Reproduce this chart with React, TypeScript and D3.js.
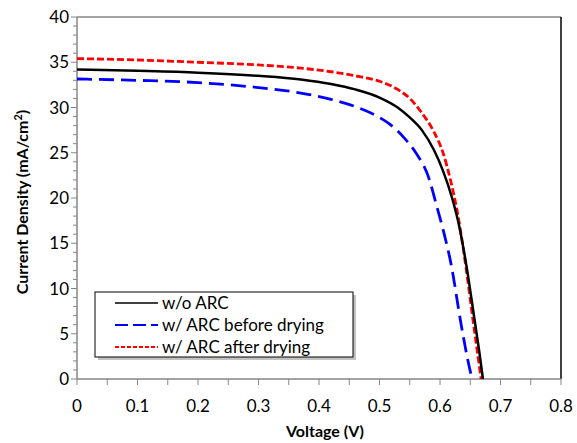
import React, { useEffect, useRef } from 'react';
import * as d3 from 'd3';

// voltage (V) and current density (mA/cm2)
const woArcV = [0, 0.1, 0.2, 0.3, 0.37, 0.42, 0.46, 0.5, 0.53, 0.55, 0.57, 0.59, 0.605, 0.62, 0.632, 0.643, 0.657, 0.665, 0.671];
const woArcJ = [34.2, 34.05, 33.85, 33.5, 33.1, 32.6, 32.0, 31.1, 30.0, 28.9, 27.5, 25.3, 23.0, 20.0, 16.8, 12.8, 6.6, 3.0, 0];

const beforeV = [0, 0.1, 0.2, 0.3, 0.37, 0.42, 0.46, 0.5, 0.52, 0.54, 0.56, 0.58, 0.595, 0.607, 0.618, 0.635, 0.645, 0.653];
const beforeJ = [33.15, 33.0, 32.75, 32.2, 31.6, 30.9, 30.1, 28.9, 28.0, 26.7, 25.0, 22.5, 19.0, 16.0, 12.8, 6.0, 2.4, 0];

const afterV = [0, 0.1, 0.2, 0.3, 0.37, 0.42, 0.46, 0.5, 0.53, 0.55, 0.57, 0.59, 0.605, 0.618, 0.628, 0.643, 0.655, 0.663, 0.668];
const afterJ = [35.4, 35.25, 35.0, 34.7, 34.35, 33.95, 33.5, 32.9, 32.0, 31.0, 29.4, 27.3, 25.0, 21.8, 18.7, 12.3, 6.3, 2.4, 0];

const xTicks = [0, 0.1, 0.2, 0.3, 0.4, 0.5, 0.6, 0.7, 0.8];
const yTicks = [0, 5, 10, 15, 20, 25, 30, 35, 40];

const seriesNames = ['w/o ARC', 'w/ ARC before drying', 'w/ ARC after drying'];

const App = () => {
  const svgRef = useRef(null);

  useEffect(() => {
    drawChart();
  }, []);

  const drawChart = () => {
    const svg = d3.select(svgRef.current);
    svg.selectAll('*').remove();

    const left = 77, right = 561, top = 17, bottom = 379;
    const axisColor = '#868686';
    const font = 'Lato, "Open Sans", sans-serif';

    const x = d3.scaleLinear().domain([0, 0.8]).range([left, right]);
    const y = d3.scaleLinear().domain([0, 40]).range([bottom, top]);

    // plot border (top gray, right black)
    svg.append('line')
      .attr('x1', left).attr('x2', right).attr('y1', top).attr('y2', top)
      .attr('stroke', axisColor).attr('stroke-width', 1.5);
    svg.append('line')
      .attr('x1', right).attr('x2', right).attr('y1', top).attr('y2', bottom)
      .attr('stroke', '#000').attr('stroke-width', 1.5);

    // minor ticks
    const yMinor = d3.range(0, 41, 1);
    svg.append('g')
      .selectAll('line')
      .data(yMinor)
      .join('line')
      .attr('x1', d => (d % 5 === 0 ? left - 6 : left - 4))
      .attr('x2', left)
      .attr('y1', d => y(d)).attr('y2', d => y(d))
      .attr('stroke', axisColor).attr('stroke-width', 1);

    const xMinor = d3.range(0, 17).map(i => i * 0.05);
    svg.append('g')
      .selectAll('line')
      .data(xMinor)
      .join('line')
      .attr('x1', d => x(d)).attr('x2', d => x(d))
      .attr('y1', bottom).attr('y2', bottom + 6)
      .attr('stroke', axisColor).attr('stroke-width', 1);

    // axis lines
    svg.append('line')
      .attr('x1', left).attr('x2', left).attr('y1', top).attr('y2', bottom)
      .attr('stroke', axisColor).attr('stroke-width', 1.5);
    svg.append('line')
      .attr('x1', left).attr('x2', right).attr('y1', bottom).attr('y2', bottom)
      .attr('stroke', axisColor).attr('stroke-width', 1.5);

    // tick labels
    svg.append('g')
      .selectAll('text')
      .data(yTicks)
      .join('text')
      .attr('x', 69)
      .attr('y', d => y(d) + 6)
      .attr('text-anchor', 'end')
      .attr('font-family', font)
      .attr('font-size', 17)
      .attr('fill', '#000')
      .text(d => d);

    svg.append('g')
      .selectAll('text')
      .data(xTicks)
      .join('text')
      .attr('x', d => x(d))
      .attr('y', 412)
      .attr('text-anchor', 'middle')
      .attr('font-family', font)
      .attr('font-size', 17)
      .attr('fill', '#000')
      .text(d => (d === 0 ? '0' : d.toFixed(1)));

    // axis titles
    svg.append('text')
      .attr('x', 325).attr('y', 437)
      .attr('text-anchor', 'middle')
      .attr('font-family', font)
      .attr('font-weight', 'bold')
      .attr('font-size', 16)
      .text('Voltage (V)');

    const yt = svg.append('text')
      .attr('transform', `translate(28,${(top + bottom) / 2 + 4}) rotate(-90)`)
      .attr('text-anchor', 'middle')
      .attr('font-family', font)
      .attr('font-weight', 'bold')
      .attr('font-size', 16);
    yt.append('tspan').text('Current Density (mA/cm');
    yt.append('tspan').attr('baseline-shift', 'super').attr('font-size', 11).text('2');
    yt.append('tspan').text(')');

    // curves
    const line = d3.line()
      .x(d => x(d[0]))
      .y(d => y(d[1]))
      .curve(d3.curveMonotoneX);

    const series = [
      { v: woArcV, j: woArcJ, color: '#000000', dash: null, width: 2.5 },
      { v: beforeV, j: beforeJ, color: '#0000ff', dash: '15,7', width: 2.8 },
      { v: afterV, j: afterJ, color: '#ff0000', dash: '7,3', width: 2.8 },
    ];

    const draw = [series[1], series[2], series[0]];
    draw.forEach(s => {
      svg.append('path')
        .datum(s.v.map((v, i) => [v, s.j[i]]))
        .attr('fill', 'none')
        .attr('stroke', s.color)
        .attr('stroke-width', s.width)
        .attr('stroke-dasharray', s.dash)
        .attr('d', line);
    });

    // legend
    const lg = svg.append('g');
    lg.append('rect')
      .attr('x', 98).attr('y', 295).attr('width', 258).attr('height', 65)
      .attr('fill', '#9a9a9a').attr('opacity', 0.6);
    lg.append('rect')
      .attr('x', 95).attr('y', 292).attr('width', 258).attr('height', 65)
      .attr('fill', '#fff').attr('stroke', '#000').attr('stroke-width', 1);

    series.forEach((s, i) => {
      const cy = 303 + i * 22;
      lg.append('line')
        .attr('x1', 115).attr('x2', 158).attr('y1', cy).attr('y2', cy)
        .attr('stroke', s.color)
        .attr('stroke-width', i === 0 ? 1.5 : 2)
        .attr('stroke-dasharray', i === 1 ? '13,5' : i === 2 ? '4,2' : null);
      lg.append('text')
        .attr('x', 162).attr('y', cy + 6)
        .attr('font-family', font)
        .attr('font-size', 17)
        .text(seriesNames[i]);
    });
  };

  return (
    <div>
      <svg ref={svgRef} width={577} height={443} style={{ position: 'absolute', left: 0, top: 0, background: '#fff' }}></svg>
    </div>
  );
};

export default App;
